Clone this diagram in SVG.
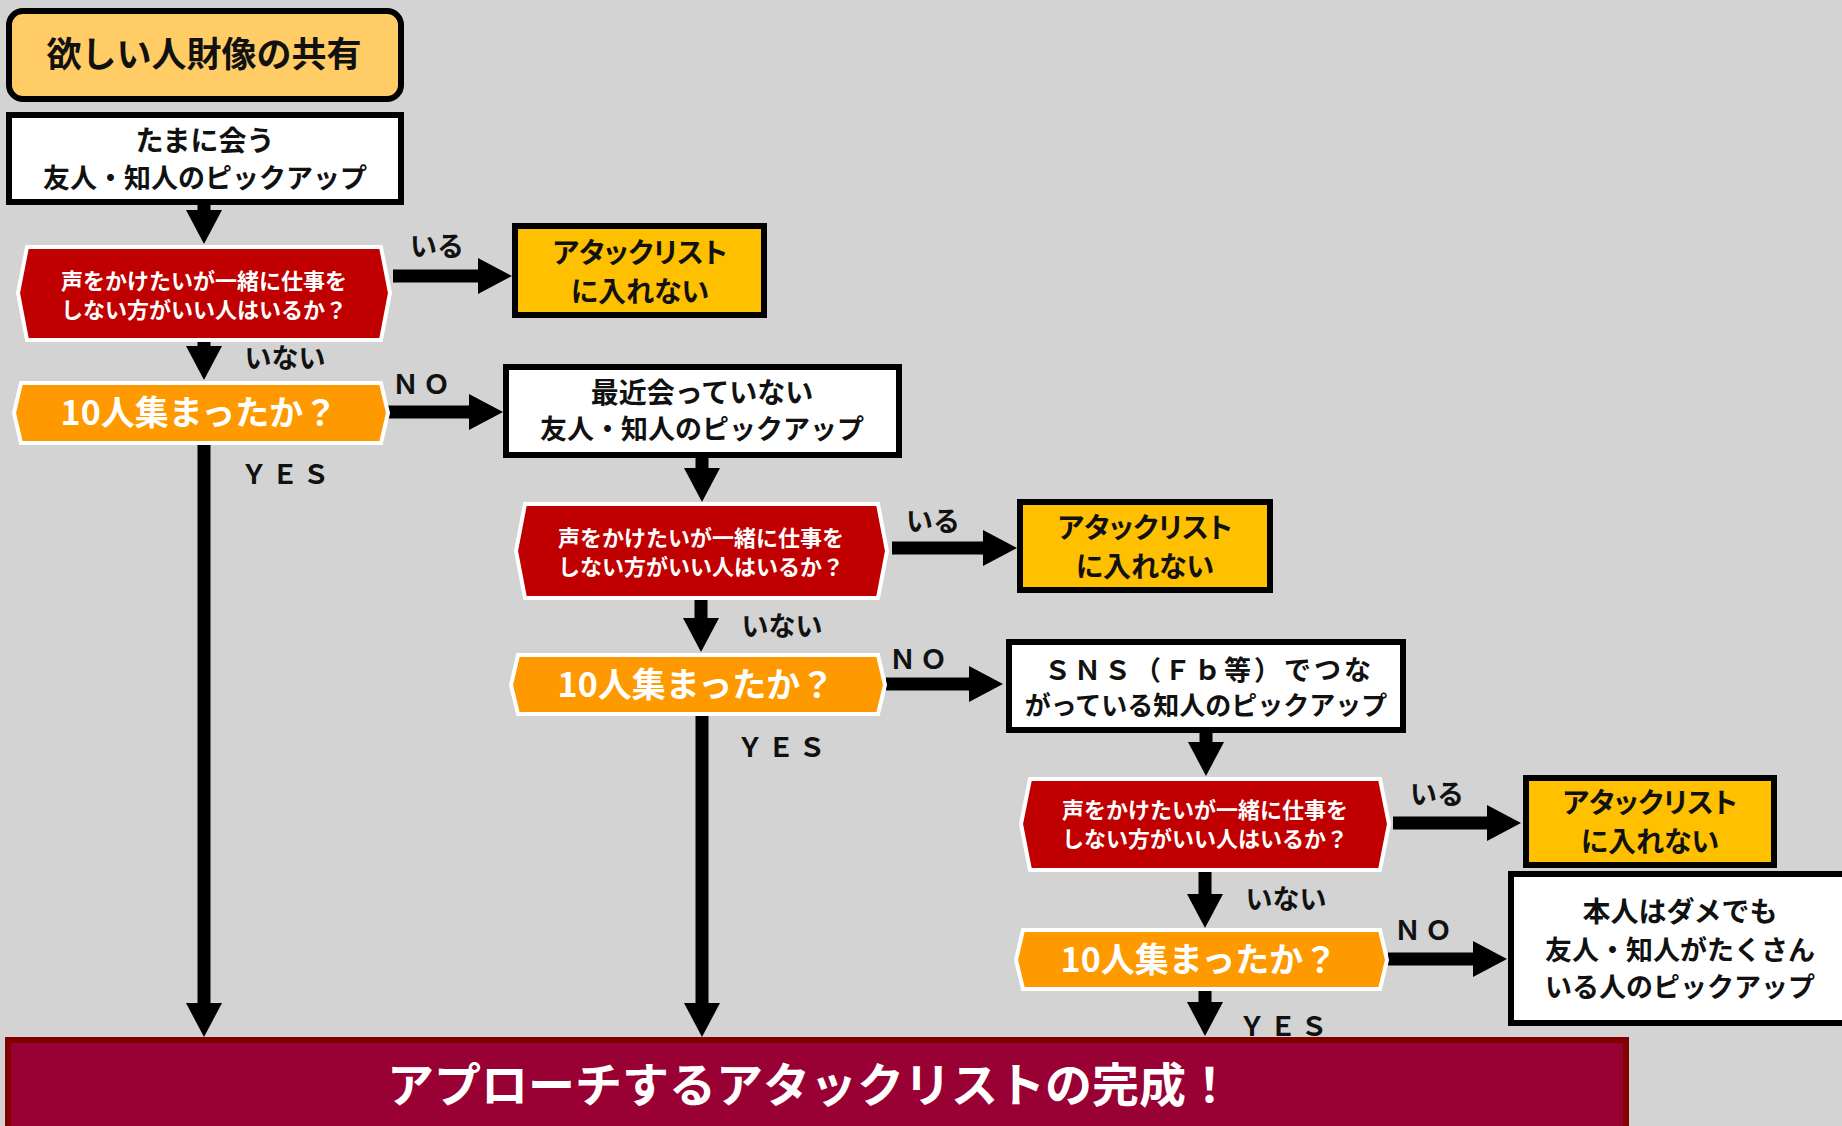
<svg xmlns="http://www.w3.org/2000/svg" width="1842" height="1126" viewBox="0 0 1842 1126">
<defs>
<style>
text{font-family:"Noto Sans CJK JP","Noto Sans CJK SC",sans-serif;font-weight:bold;text-anchor:middle}
.box{fill:#fff;stroke:#000;stroke-width:6}
.atk{fill:#FFC000;stroke:#000;stroke-width:6}
.red{fill:#C00000;stroke:#fff;stroke-width:4;stroke-linejoin:miter}
.org{fill:#FF9900;stroke:#fff;stroke-width:4}
.dk{fill:#111;font-size:28px}
.at{fill:#111;font-size:28px;font-feature-settings:"palt"}
.wt{fill:#fff}
.lbl{fill:#111;font-size:27px}
.sp{letter-spacing:4px}
.con{stroke:#000;stroke-width:13;fill:none}
</style>
<marker id="ah" markerUnits="userSpaceOnUse" markerWidth="36" markerHeight="38" refX="2" refY="18" orient="auto" viewBox="0 0 36 36">
<path d="M0,0 L34,18 L0,36 z" fill="#000"/>
</marker>
</defs>
<rect width="1842" height="1126" fill="#D3D3D3"/>

<g id="connectors">
<line class="con" x1="204" y1="204" x2="204" y2="212" marker-end="url(#ah)"/>
<line class="con" x1="204" y1="341" x2="204" y2="348" marker-end="url(#ah)"/>
<line class="con" x1="393" y1="276" x2="480" y2="276" marker-end="url(#ah)"/>
<line class="con" x1="388" y1="412" x2="471" y2="412" marker-end="url(#ah)"/>
<line class="con" x1="204" y1="444" x2="204" y2="1005" marker-end="url(#ah)"/>
<line class="con" x1="702" y1="458" x2="702" y2="470" marker-end="url(#ah)"/>
<line class="con" x1="701" y1="598" x2="701" y2="620" marker-end="url(#ah)"/>
<line class="con" x1="892" y1="548" x2="985" y2="548" marker-end="url(#ah)"/>
<line class="con" x1="886" y1="684" x2="971" y2="684" marker-end="url(#ah)"/>
<line class="con" x1="702" y1="715" x2="702" y2="1005" marker-end="url(#ah)"/>
<line class="con" x1="1206" y1="732" x2="1206" y2="744" marker-end="url(#ah)"/>
<line class="con" x1="1205" y1="870" x2="1205" y2="896" marker-end="url(#ah)"/>
<line class="con" x1="1393" y1="823" x2="1489" y2="823" marker-end="url(#ah)"/>
<line class="con" x1="1388" y1="959" x2="1475" y2="959" marker-end="url(#ah)"/>
<line class="con" x1="1205" y1="990" x2="1205" y2="1004" marker-end="url(#ah)"/>
</g>

<g id="labels">
<text class="lbl" x="437" y="256">いる</text>
<text class="lbl" x="285" y="368">いない</text>
<text class="lbl sp" x="423" y="394">ＮＯ</text>
<text class="lbl sp" x="287" y="484">ＹＥＳ</text>
<text class="lbl" x="933" y="531">いる</text>
<text class="lbl" x="782" y="636">いない</text>
<text class="lbl sp" x="920" y="669">ＮＯ</text>
<text class="lbl sp" x="783" y="757">ＹＥＳ</text>
<text class="lbl" x="1437" y="804">いる</text>
<text class="lbl" x="1286" y="909">いない</text>
<text class="lbl sp" x="1425" y="940">ＮＯ</text>
<text class="lbl sp" x="1285" y="1036">ＹＥＳ</text>
</g>

<g id="title">
<rect x="9" y="11" width="392" height="88" rx="14" fill="#FFCC66" stroke="#000" stroke-width="6"/>
<text x="204" y="67" style="font-size:35px;fill:#111">欲しい人財像の共有</text>
</g>

<g id="pick1">
<rect class="box" x="9" y="115" width="392" height="87"/>
<text class="dk" x="205" y="151">たまに会う</text>
<text class="dk" x="205" y="188" style="font-size:27px">友人・知人のピックアップ</text>
</g>

<g id="check1">
<path class="red" d="M27,247 L381,247 L390,293 L381,340 L27,340 L18,293 Z"/>
<text class="wt" x="204" y="289" style="font-size:22px">声をかけたいが一緒に仕事を</text>
<text class="wt" x="204" y="318" style="font-size:22px">しない方がいい人はいるか？</text>
</g>

<g id="attack1">
<rect class="atk" x="515" y="226" width="249" height="89"/>
<text class="at" x="640" y="263">アタックリスト</text>
<text class="at" x="640" y="302">に入れない</text>
</g>

<g id="count1">
<path class="org" d="M21,383 L381,383 L388,413 L381,443 L21,443 L14,413 Z"/>
<text class="wt" x="199" y="425" style="font-size:34px">10人集まったか？</text>
</g>

<g id="pick2">
<rect class="box" x="506" y="367" width="393" height="88"/>
<text class="dk" x="702" y="403">最近会っていない</text>
<text class="dk" x="702" y="439" style="font-size:27px">友人・知人のピックアップ</text>
</g>

<g id="check2">
<path class="red" d="M525,504 L878,504 L887,551 L878,598 L525,598 L516,551 Z"/>
<text class="wt" x="701" y="546" style="font-size:22px">声をかけたいが一緒に仕事を</text>
<text class="wt" x="701" y="575" style="font-size:22px">しない方がいい人はいるか？</text>
</g>

<g id="attack2">
<rect class="atk" x="1020" y="502" width="250" height="88"/>
<text class="at" x="1145" y="538">アタックリスト</text>
<text class="at" x="1145" y="577">に入れない</text>
</g>

<g id="count2">
<path class="org" d="M518,655 L878,655 L885,685 L878,714 L518,714 L511,685 Z"/>
<text class="wt" x="696" y="697" style="font-size:34px">10人集まったか？</text>
</g>

<g id="pick3">
<rect class="box" x="1009" y="642" width="394" height="88"/>
<text class="dk" x="1209" y="680" style="font-size:27px;letter-spacing:3px">ＳＮＳ（Ｆｂ等）でつな</text>
<text class="dk" x="1206" y="715" style="font-size:26px">がっている知人のピックアップ</text>
</g>

<g id="check3">
<path class="red" d="M1030,779 L1380,779 L1389,824 L1380,870 L1030,870 L1021,824 Z"/>
<text class="wt" x="1205" y="818" style="font-size:22px">声をかけたいが一緒に仕事を</text>
<text class="wt" x="1205" y="847" style="font-size:22px">しない方がいい人はいるか？</text>
</g>

<g id="attack3">
<rect class="atk" x="1526" y="778" width="248" height="87"/>
<text class="at" x="1650" y="813">アタックリスト</text>
<text class="at" x="1650" y="852">に入れない</text>
</g>

<g id="count3">
<path class="org" d="M1023,930 L1380,930 L1387,960 L1380,989 L1023,989 L1016,960 Z"/>
<text class="wt" x="1199" y="972" style="font-size:34px">10人集まったか？</text>
</g>

<g id="pick4">
<rect class="box" x="1511" y="874" width="400" height="149"/>
<text class="dk" x="1680" y="922">本人はダメでも</text>
<text class="dk" x="1680" y="960" style="font-size:27px">友人・知人がたくさん</text>
<text class="dk" x="1680" y="997" style="font-size:27px">いる人のピックアップ</text>
</g>

<g id="result">
<rect x="8" y="1040" width="1618" height="120" fill="#990033" stroke="#800000" stroke-width="6"/>
<text class="wt" x="810" y="1102" style="font-size:47px">アプローチするアタックリストの完成！</text>
</g>
</svg>
